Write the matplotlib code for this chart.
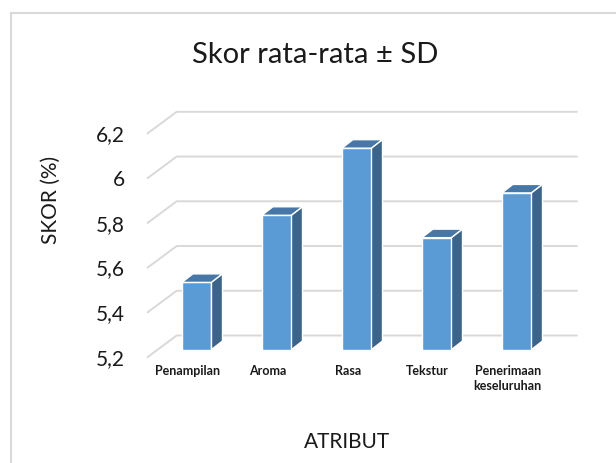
import matplotlib
matplotlib.use('Agg')
import matplotlib.pyplot as plt
from matplotlib.patches import Polygon
from matplotlib.lines import Line2D
from matplotlib.transforms import offset_copy, IdentityTransform

# Datos
atribut = ['Penampilan', 'Aroma', 'Rasa', 'Tekstur', 'Penerimaan\nkeseluruhan']
skor = [5.5, 5.8, 6.1, 5.7, 5.9]
yticks = [5.2, 5.4, 5.6, 5.8, 6.0, 6.2]
ytick_labels = ['5,2', '5,4', '5,6', '5,8', '6', '6,2']

plt.rcParams['font.family'] = ['Lato', 'DejaVu Sans']

W, H = 616, 463
fig = plt.figure(figsize=(W / 100, H / 100), dpi=100)

# plano frontal del grafico 3D
ax = fig.add_axes([147.7 / W, 1 - 357 / H, 400 / W, 223.7 / H])
ax.set_xlim(-0.5, 4.5)
ax.set_ylim(5.2, 6.2)
for s in ax.spines.values():
    s.set_visible(False)
ax.patch.set_visible(False)

# profundidad (pixeles)
wall_dx, wall_dy = 29, 21.5
bar_dx, bar_dy = 9, 7.5
side_dx, side_dy = 11, 8.5
bar_w = 0.37
grid_col = '#d9d9d9'
c_front, c_top, c_side = '#5b9bd5', '#4677a6', '#3b6488'


def px(x, y, ox=0, oy=0):
    X, Y = ax.transData.transform((x, y))
    return X + ox, Y + oy


# lineas de cuadricula: pared lateral + pared del fondo
x0, x1 = ax.get_xlim()
for t in yticks:
    a = px(x0, t)
    b = px(x0, t, wall_dx, wall_dy)
    c = px(x1, t, wall_dx, wall_dy)
    ln = Line2D([a[0], b[0], c[0]], [a[1], b[1], c[1]], transform=IdentityTransform(),
                color=grid_col, lw=1.4, zorder=1)
    ax.add_artist(ln)
    ln.set_clip_on(False)

# barras: cara frontal
tr_bar = offset_copy(ax.transData, fig=fig, x=bar_dx, y=bar_dy, units='dots')
xs = list(range(len(atribut)))
ax.bar(xs, [v - 5.2 for v in skor], bottom=5.2, width=bar_w, color=c_front,
       edgecolor='white', linewidth=1, transform=tr_bar, zorder=3, clip_on=False)

# barras: tapa y lateral
for x, v in zip(xs, skor):
    fl = px(x - bar_w / 2, v, bar_dx, bar_dy)
    fr = px(x + bar_w / 2, v, bar_dx, bar_dy)
    fb = px(x + bar_w / 2, 5.2, bar_dx, bar_dy)
    br = (fr[0] + side_dx, fr[1] + side_dy)
    bl = (fl[0] + side_dx, fl[1] + side_dy)
    bb = (fb[0] + side_dx, fb[1] + side_dy)
    top = Polygon([fl, fr, br, bl], closed=True, facecolor=c_top, edgecolor='white',
                  linewidth=1, transform=IdentityTransform(), zorder=3)
    side = Polygon([fr, fb, bb, br], closed=True, facecolor=c_side, edgecolor='white',
                   linewidth=1, transform=IdentityTransform(), zorder=3)
    for p in (top, side):
        ax.add_artist(p)
        p.set_clip_on(False)

# ejes
ax.set_yticks(yticks, ytick_labels, fontsize=15, color='#1a1a1a')
ax.tick_params(axis='y', length=0, pad=16.3)
ax.set_xticks(xs, atribut, fontsize=9, fontweight='bold', linespacing=1.3, color='#1a1a1a')
ax.tick_params(axis='x', length=0, pad=6.0)

# textos
fig.text(315.5 / W, 1 - 55 / H, 'Skor rata-rata ± SD', ha='center', va='center',
         fontsize=21, color='#1a1a1a')
fig.text(51 / W, 1 - 200 / H, 'SKOR (%)', ha='center', va='center', rotation=90,
         fontsize=15, color='#1a1a1a')
fig.text(347 / W, 1 - 442 / H, 'ATRIBUT', ha='center', va='center',
         fontsize=15, color='#1a1a1a')

# marco del area del grafico
fig.add_artist(Line2D([11 / W, 1.0], [1 - 13.3 / H, 1 - 13.3 / H], color=grid_col, lw=1.5))
fig.add_artist(Line2D([11 / W, 11 / W], [0.0, 1 - 13.3 / H], color=grid_col, lw=1.5))

fig.savefig('out.png', dpi=100)
